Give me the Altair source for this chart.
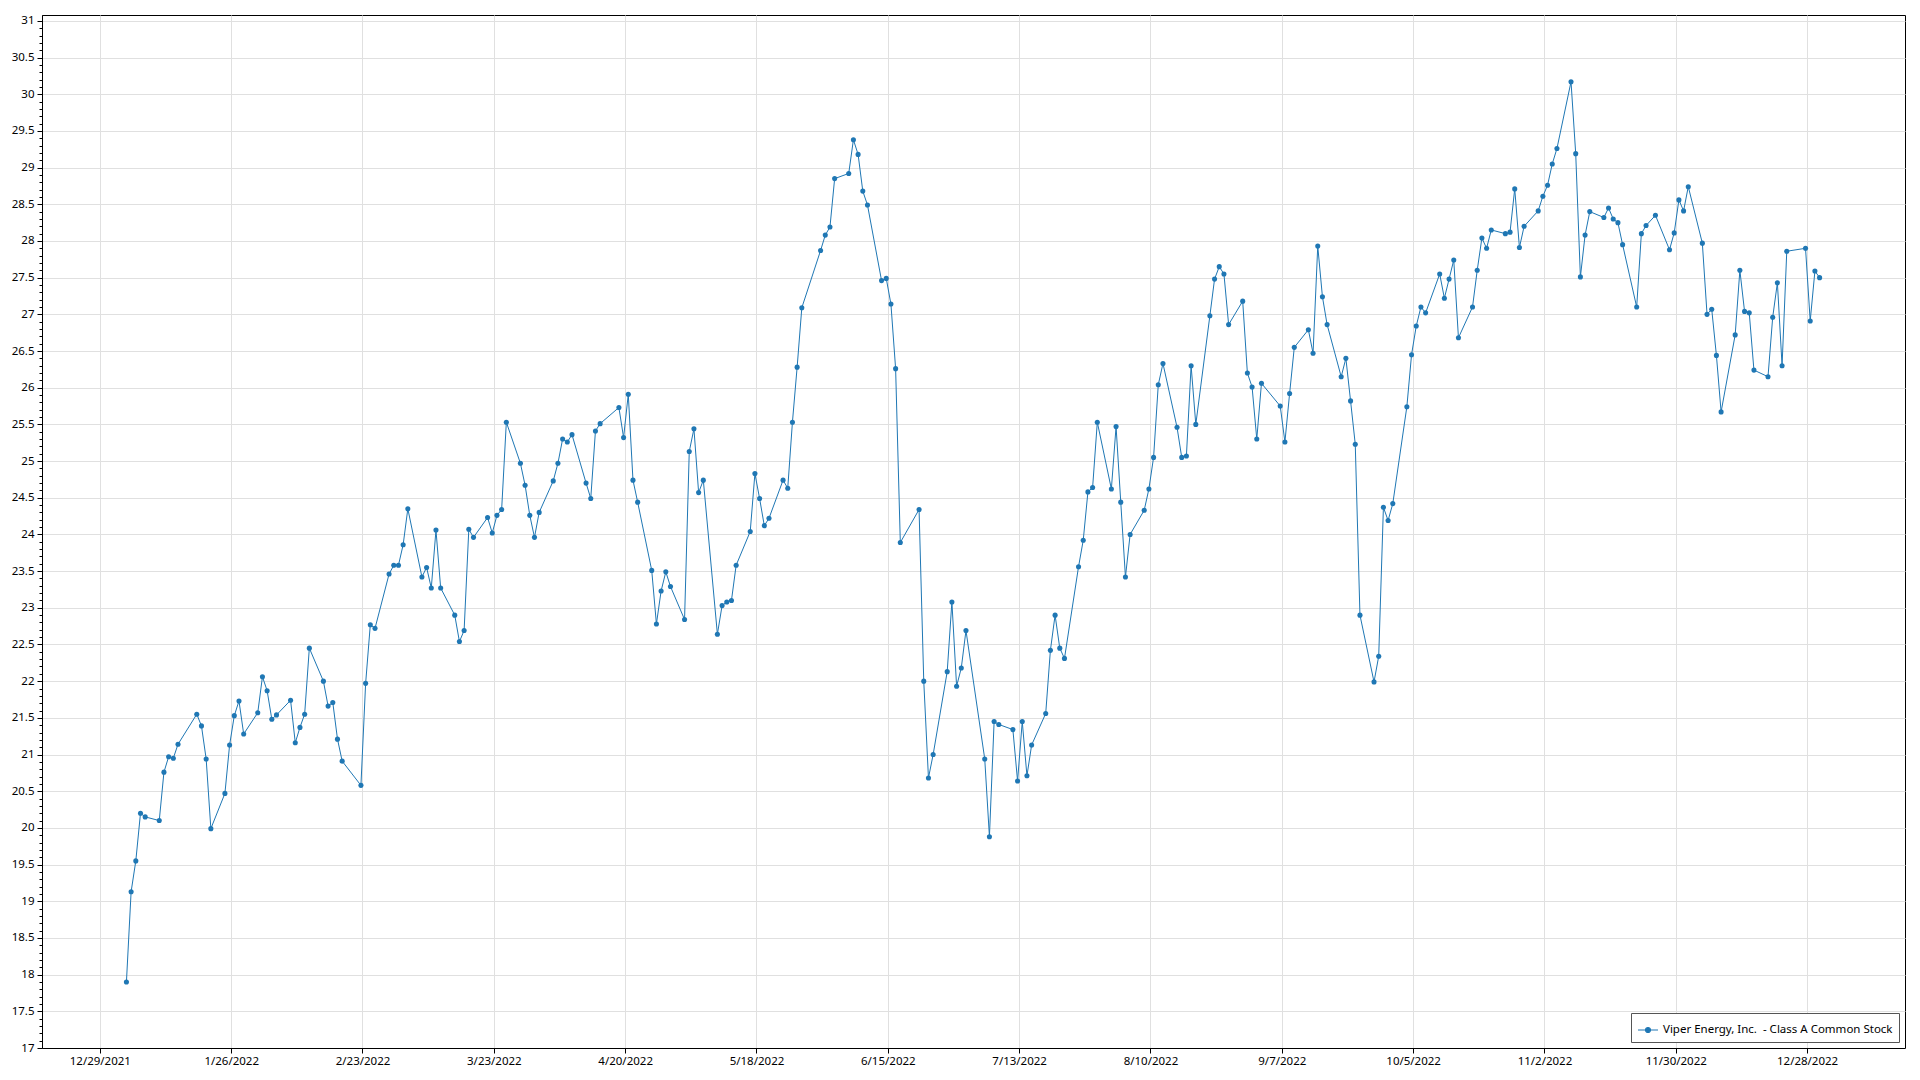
import altair as alt
import pandas as pd

series_name = "Viper Energy, Inc.\u00a0 - Class A Common Stock"

# closing prices per month (trading days in order)
jan = [17.90, 19.13, 19.55, 20.20, 20.15, 20.10, 20.76, 20.97, 20.95, 21.14,
       21.55, 21.39, 20.94, 19.99, 20.47, 21.13, 21.53, 21.73, 21.28, 21.57]
feb = [22.06, 21.87, 21.48, 21.54, 21.74, 21.16, 21.37, 21.55, 22.45, 22.00,
       21.66, 21.71, 21.21, 20.91, 20.58, 21.97, 22.77, 22.72, 23.46]
mar = [23.58, 23.58, 23.86, 24.35, 23.42, 23.55, 23.27, 24.06, 23.27, 22.90,
       22.54, 22.69, 24.07, 23.96, 24.23, 24.02, 24.26, 24.34, 25.53, 24.97,
       24.67, 24.26, 23.96]
apr = [24.30, 24.73, 24.97, 25.30, 25.26, 25.36, 24.70, 24.49, 25.41, 25.51,
       25.73, 25.32, 25.91, 24.74, 24.44, 23.51, 22.78, 23.23, 23.49, 23.29]
may = [22.84, 25.13, 25.44, 24.57, 24.74, 22.64, 23.03, 23.08, 23.10, 23.58,
       24.04, 24.83, 24.49, 24.12, 24.22, 24.74, 24.63, 25.53, 26.28, 27.09,
       27.87]
jun = [28.08, 28.19, 28.85, 28.92, 29.38, 29.18, 28.68, 28.49, 27.46, 27.49,
       27.14, 26.26, 23.89, 24.34, 22.00, 20.68, 21.00, 22.13, 23.08, 21.93,
       22.18]
jul = [22.69, 20.94, 19.88, 21.45, 21.41, 21.34, 20.64, 21.45, 20.71, 21.13,
       21.56, 22.42, 22.90, 22.45, 22.31, 23.56, 23.92, 24.58, 24.64, 25.53]
aug = [24.62, 25.47, 24.44, 23.42, 24.00, 24.33, 24.62, 25.05, 26.04, 26.33,
       25.46, 25.05, 25.07, 26.30, 25.50, 26.98, 27.48, 27.65, 27.55, 26.86,
       27.18, 26.20, 26.01]
sep = [25.30, 26.06, 25.75, 25.26, 25.92, 26.55, 26.79, 26.47, 27.93, 27.24,
       26.86, 26.15, 26.40, 25.82, 25.23, 22.90, 21.99, 22.34, 24.37, 24.19,
       24.42]
oct_ = [25.74, 26.45, 26.84, 27.10, 27.02, 27.55, 27.22, 27.48, 27.74, 26.68,
        27.10, 27.60, 28.04, 27.90, 28.15, 28.10, 28.12, 28.71, 27.91, 28.20,
        28.41]
nov = [28.61, 28.76, 29.05, 29.26, 30.17, 29.19, 27.51, 28.08, 28.40, 28.32,
       28.45, 28.30, 28.25, 27.95, 27.10, 28.10, 28.21, 28.35, 27.88, 28.11,
       28.56]
dec = [28.41, 28.74, 27.97, 27.00, 27.07, 26.44, 25.67, 26.72, 27.60, 27.04,
       27.02, 26.24, 26.15, 26.96, 27.43, 26.30, 27.86, 27.90, 26.91, 27.59,
       27.50]

market_holidays = ["2022-01-17", "2022-02-21", "2022-04-15", "2022-05-30",
                   "2022-06-20", "2022-07-04", "2022-09-05", "2022-11-24",
                   "2022-12-26"]

x_tick_dates = ["2021-12-29", "2022-01-26", "2022-02-23", "2022-03-23",
                "2022-04-20", "2022-05-18", "2022-06-15", "2022-07-13",
                "2022-08-10", "2022-09-07", "2022-10-05", "2022-11-02",
                "2022-11-30", "2022-12-28"]

prices = jan + feb + mar + apr + may + jun + jul + aug + sep + oct_ + nov + dec
days = [d.strftime("%Y-%m-%dT16:00:00Z") for d in pd.bdate_range("2022-01-03", "2022-12-30")
        if d.strftime("%Y-%m-%d") not in market_holidays]
assert len(days) == len(prices)

df = pd.DataFrame({"date": days, "price": prices, "series": series_name})


def dt(s, hours=0):
    y, m, d = (int(v) for v in s.split("-"))
    return alt.DateTime(year=y, month=m, date=d, hours=hours, utc=True)


x_values = [dt(s) for s in x_tick_dates]
y_values = [round(17 + i * 0.1, 1) for i in range(141)]
major_test = "abs(datum.value*2 - round(datum.value*2)) < 0.01"

FONT = "Noto Sans"
BLUE = "#1f77b4"

x_enc = alt.X(
    "date:T",
    scale=alt.Scale(type="utc", domain=[dt("2021-12-16", 16), dt("2023-01-17", 21)]),
    axis=alt.Axis(values=x_values, title=None,
                  labelExpr="utcFormat(datum.value, '%-m/%-d/%Y')",
                  tickSize=5, labelPadding=2, labelOverlap=False),
)
y_enc = alt.Y(
    "price:Q",
    scale=alt.Scale(domain=[17, 31.08], nice=False, zero=False),
    axis=alt.Axis(
        values=y_values, title=None, labelOverlap=False, labelPadding=3,
        labelExpr=f"{major_test} ? '' + round(datum.value*2)/2 : ''",
        tickSize={"condition": {"test": major_test, "value": 5}, "value": 3},
        gridOpacity={"condition": {"test": major_test, "value": 1}, "value": 0},
    ),
)

line = alt.Chart(df).mark_line(strokeWidth=1, color=BLUE).encode(x=x_enc, y=y_enc)
points = alt.Chart(df).mark_circle(size=26, opacity=1).encode(
    x=x_enc, y=y_enc,
    color=alt.Color(
        "series:N",
        scale=alt.Scale(range=[BLUE]),
        legend=alt.Legend(
            title=None, orient="bottom-right", offset=6,
            strokeColor="#555", fillColor="white", padding=6, cornerRadius=0,
            symbolType="M-1,0L1,0M-0.25,0A0.25,0.25,0,1,1,0.25,0A0.25,0.25,0,1,1,-0.25,0Z",
            symbolSize=400, symbolStrokeColor=BLUE, symbolFillColor=BLUE,
            symbolStrokeWidth=1.2, labelFont=FONT, labelFontSize=11.5,
            labelColor="#000", labelLimit=400,
        ),
    ),
)

chart = (
    alt.layer(line, points)
    .properties(
        width=1863, height=1033,
        autosize=alt.AutoSizeParams(type="none"),
        padding={"left": 34, "top": 7, "right": 7, "bottom": 22},
    )
    .configure_view(stroke="#000", strokeWidth=1)
    .configure_axis(
        labelFont=FONT, labelFontSize=11.5, labelColor="#000",
        domainColor="#000", tickColor="#000", gridColor="#e0e0e0", gridWidth=1,
    )
)

chart.save("out.html", embed_options={"renderer": "svg", "actions": False})
